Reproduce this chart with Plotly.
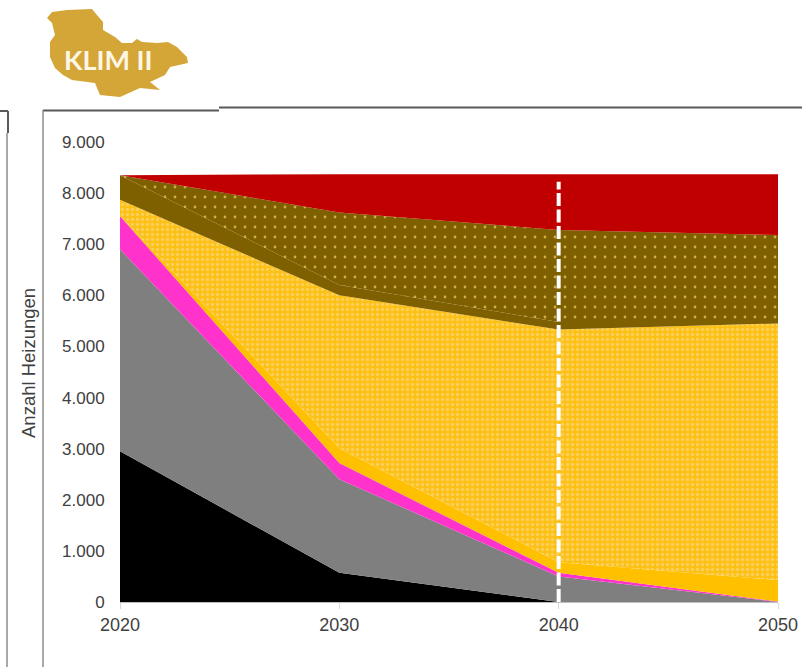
import plotly.graph_objects as go

# Heating systems per scenario year (layer thickness, stacked bottom to top)
years = [2020, 2030, 2040, 2050]
heizoel = [2950, 570, 0, 0]
erdgas = [3950, 1830, 500, 0]
fluessiggas = [650, 320, 70, 10]
waermepumpe_luft = [10, 290, 210, 420]
waermepumpe_erde = [310, 2990, 4550, 5020]
biomasse = [480, 200, 150, 30]
biomasse_fern = [0, 1420, 1800, 1700]
sonstige = [0, 750, 1090, 1190]

y_ticks = [0, 1000, 2000, 3000, 4000, 5000, 6000, 7000, 8000, 9000]
y_labels = ["0", "1.000", "2.000", "3.000", "4.000", "5.000", "6.000", "7.000", "8.000", "9.000"]

W, H = 802, 667
L, R, T, B = 120, 24, 142, 65


def px(x):
    return (x - L) / (W - L - R)


def py(y):
    return 1 - (y - T) / (H - T - B)


def path(points):
    return "M " + " L ".join(f"{px(x):.4f},{py(y):.4f}" for x, y in points) + " Z"


layers = [
    (heizoel, "#000000", None),
    (erdgas, "#7f7f7f", None),
    (fluessiggas, "#ff33cc", None),
    (waermepumpe_luft, "#ffc000", None),
    (waermepumpe_erde, "#ffc000", dict(shape=".", size=5, solidity=0.35, fgcolor="#fbd05a", bgcolor="#fdc015", fillmode="replace")),
    (biomasse, "#7f6000", None),
    (biomasse_fern, "#7f6000", dict(shape=".", size=10, solidity=0.06, fgcolor="#cfae48", bgcolor="#7f6000", fillmode="replace")),
    (sonstige, "#c00000", None),
]

fig = go.Figure()
for values, color, pattern in layers:
    trace = dict(x=years, y=values, mode="none", stackgroup="one", fillcolor=color, hoverinfo="skip")
    if pattern:
        trace["fillpattern"] = pattern
    fig.add_trace(go.Scatter(**trace))

# Region outline used as the project emblem
emblem = [(47, 18), (52, 12), (67, 10), (92, 9), (97, 15), (103, 22), (103, 30), (115, 37), (122, 43), (132, 43),
          (137, 39), (142, 42), (157, 43), (168, 42), (177, 47), (187, 57), (188, 63), (170, 67), (165, 75), (150, 82),
          (160, 90), (140, 88), (120, 97), (100, 95), (95, 83), (72, 80), (63, 75), (55, 68), (50, 57), (50, 42),
          (55, 35), (52, 23)]

frame_dark = dict(color="#595959", width=2)
frame_mid = dict(color="#8c8c8c", width=1.5)


def seg(x0, y0, x1, y1, line):
    return dict(type="line", xref="paper", yref="paper", x0=px(x0), y0=py(y0), x1=px(x1), y1=py(y1), line=line, layer="above")


shapes = [
    dict(type="path", xref="paper", yref="paper", path=path(emblem), fillcolor="#d4a537", line=dict(width=0), layer="below"),
    seg(43, 110.5, 219, 110.5, frame_dark),
    seg(219, 107.5, 802, 107.5, frame_dark),
    seg(43, 110, 43, 133, frame_mid),
    seg(43, 133, 43, 667, frame_mid),
    seg(0, 111, 8, 111, frame_dark),
    seg(8, 111, 8, 133, frame_dark),
    seg(7, 133, 7, 667, frame_mid),
    # Marker for the 2040 target year
    dict(type="line", xref="x", yref="y", x0=2040, x1=2040, y0=0, y1=8220, line=dict(color="#ffffff", width=4, dash="13px,3.5px"), layer="above"),
]

fig.update_layout(
    width=W,
    height=H,
    margin=dict(l=L, r=R, t=T, b=B, autoexpand=False),
    paper_bgcolor="#ffffff",
    plot_bgcolor="#ffffff",
    showlegend=False,
    font=dict(family="Liberation Sans, Arial, sans-serif", size=17, color="#404040"),
    shapes=shapes,
    annotations=[
        dict(text="<b>KLIM II</b>", xref="paper", yref="paper", x=px(108), y=py(60), showarrow=False,
             xanchor="center", yanchor="middle", font=dict(family="Lato, sans-serif", size=27, color="#fdf6e3")),
        dict(text="Anzahl Heizungen", xref="paper", yref="paper", x=px(28), y=py(363), showarrow=False, textangle=-90,
             xanchor="center", yanchor="middle", font=dict(size=18.5, color="#404040")),
    ],
    xaxis=dict(range=[2020, 2050], tickvals=years, ticktext=[str(v) for v in years], ticks="outside", ticklen=6,
               tickcolor="#d9d9d9", showgrid=False, zeroline=False, showline=True, linecolor="#bfbfbf", linewidth=1,
               tickfont=dict(size=18)),
    yaxis=dict(range=[0, 9000], tickvals=y_ticks, ticktext=y_labels, ticks="outside", ticklen=11, tickcolor="rgba(0,0,0,0)",
               showgrid=True, gridcolor="#d9d9d9", gridwidth=1, zeroline=False, showline=False, tickfont=dict(size=17)),
)

fig.write_html("out.html")
